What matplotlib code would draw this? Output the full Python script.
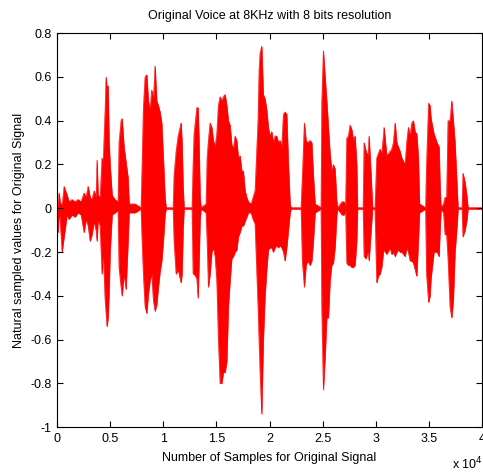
import numpy as np
import matplotlib
matplotlib.use('Agg')
import matplotlib.pyplot as plt

plt.rcParams['font.family'] = ['Liberation Sans', 'DejaVu Sans']

# envelope of the waveform: sample index, upper and lower value
samples = [0, 94, 188, 282, 470, 660, 940, 1130, 1410, 1690, 1980, 2260, 2540, 2730,
           2920, 3110, 3290, 3480, 3670, 3760, 3860, 4050, 4230, 4330, 4520, 4610,
           4700, 4800, 4890, 4990, 5180, 5460, 5740,
           5830, 6020, 6120, 6300, 6490, 6680, 6780, 7340, 7900,
           8000, 8120, 8280, 8440, 8590, 8750, 8910, 9060, 9220, 9380, 9530, 9690,
           9850, 10000, 10160, 10260, 10920,
           11010, 11200, 11390, 11670, 11760, 11860, 11950, 12700,
           12800, 12890, 13150, 13270, 13360, 13460, 13550, 14020,
           14120, 14240, 14400, 14560, 14710, 14870, 15030, 15180, 15340, 15500,
           15650, 15810, 15970, 16120, 16280, 16440, 16590, 16750, 16910, 17060,
           17220, 17380, 17530, 17690, 17850, 18000, 18260, 18440, 18630,
           18910, 19010, 19100, 19260, 19410, 19570, 19730, 19880, 20040, 20200,
           20350, 20510, 20670, 20820, 20980, 21140, 21300, 21450, 21610, 21770,
           21930, 22020, 22960,
           23080, 23270, 23430, 23590, 23810, 23970, 24120, 24280, 24840,
           24910, 25060, 25220, 25380, 25530, 25690, 25850, 26000, 26160, 26320,
           26400, 26820, 27010, 27150,
           27260, 27410, 27570, 27730, 27880, 28040, 28200, 28280, 28800,
           28890, 29080, 29270, 29360, 29550, 29690, 29920,
           30080, 30230, 30390, 30550, 30710, 30770, 31020, 31340, 31490, 31650,
           31810, 31970, 32120, 32280, 32440, 32750, 32900, 33060, 33220, 33380,
           33530, 33690, 33850, 34000, 34110, 34680,
           34770, 34960, 35100, 35190, 35470, 35760, 35950, 36040, 36130, 36370,
           36510, 36660, 36790, 36980, 37140, 37290, 37450, 37640, 37730, 38110,
           38200, 38390, 38580, 38670, 39990]

upper = [0.0, 0.02, 0.07, 0.03, 0.01, 0.10, 0.06, 0.03, 0.04, 0.03, 0.04, 0.03, 0.07, 0.05,
         0.10, 0.05, 0.04, 0.08, 0.05, 0.22, 0.06, 0.05, 0.23, 0.20, 0.45, 0.60,
         0.55, 0.56, 0.31, 0.20, 0.06, 0.04, 0.03,
         0.30, 0.40, 0.41, 0.28, 0.21, 0.14, 0.02, 0.02, 0.003,
         0.20, 0.46, 0.60, 0.61, 0.49, 0.45, 0.54, 0.49, 0.65, 0.49, 0.47, 0.44,
         0.39, 0.23, 0.05, 0.003, 0.003,
         0.15, 0.26, 0.33, 0.39, 0.30, 0.10, 0.003, 0.003,
         0.20, 0.34, 0.46, 0.46, 0.30, 0.05, 0.003, 0.02,
         0.23, 0.31, 0.39, 0.37, 0.31, 0.28, 0.34, 0.47, 0.51, 0.49,
         0.51, 0.52, 0.47, 0.40, 0.38, 0.29, 0.27, 0.33, 0.31, 0.23,
         0.24, 0.17, 0.17, 0.08, 0.05, 0.03, 0.02, 0.05, 0.08,
         0.40, 0.63, 0.71, 0.74, 0.52, 0.50, 0.45, 0.37, 0.33, 0.35,
         0.30, 0.33, 0.33, 0.30, 0.31, 0.28, 0.43, 0.44, 0.43, 0.20,
         0.02, 0.003, 0.003,
         0.14, 0.39, 0.31, 0.30, 0.31, 0.30, 0.15, 0.02, 0.003,
         0.48, 0.72, 0.60, 0.49, 0.37, 0.25, 0.17, 0.20, 0.18, 0.03,
         0.003, 0.03, 0.03, 0.003,
         0.32, 0.33, 0.38, 0.36, 0.31, 0.33, 0.20, 0.003, 0.003,
         0.30, 0.26, 0.24, 0.33, 0.15, 0.003, 0.003,
         0.23, 0.25, 0.27, 0.25, 0.33, 0.37, 0.24, 0.26, 0.27, 0.30,
         0.39, 0.30, 0.28, 0.26, 0.23, 0.20, 0.30, 0.37, 0.33, 0.39,
         0.40, 0.35, 0.34, 0.23, 0.02, 0.003,
         0.20, 0.48, 0.47, 0.41, 0.34, 0.30, 0.28, 0.10, 0.003, 0.02,
         0.05, 0.05, 0.40, 0.40, 0.49, 0.40, 0.30, 0.10, 0.003, 0.003,
         0.16, 0.12, 0.05, 0.003, 0.003]

lower = [-0.10, -0.11, -0.02, -0.05, -0.20, -0.13, -0.03, -0.05, -0.03, -0.04, -0.02, -0.03, -0.11, -0.05,
         -0.08, -0.15, -0.12, -0.06, -0.10, -0.15, -0.05, -0.08, -0.30, -0.18, -0.42, -0.48,
         -0.54, -0.50, -0.39, -0.20, -0.03, -0.02, -0.01,
         -0.27, -0.36, -0.40, -0.30, -0.37, -0.15, -0.02, -0.02, -0.003,
         -0.15, -0.30, -0.45, -0.48, -0.39, -0.33, -0.30, -0.42, -0.47, -0.44, -0.36, -0.29,
         -0.24, -0.15, -0.03, -0.003, -0.003,
         -0.15, -0.30, -0.28, -0.34, -0.30, -0.10, -0.003, -0.003,
         -0.30, -0.30, -0.32, -0.41, -0.25, -0.05, -0.003, -0.02,
         -0.15, -0.36, -0.30, -0.20, -0.18, -0.22, -0.33, -0.60, -0.80, -0.80,
         -0.75, -0.75, -0.70, -0.45, -0.33, -0.23, -0.22, -0.20, -0.19, -0.13,
         -0.11, -0.08, -0.08, -0.06, -0.04, -0.02, -0.02, -0.05, -0.07,
         -0.45, -0.60, -0.75, -0.94, -0.60, -0.40, -0.28, -0.19, -0.18, -0.18,
         -0.20, -0.18, -0.17, -0.18, -0.17, -0.18, -0.20, -0.24, -0.18, -0.10,
         -0.02, -0.003, -0.003,
         -0.24, -0.36, -0.26, -0.24, -0.26, -0.24, -0.15, -0.02, -0.003,
         -0.45, -0.83, -0.68, -0.50, -0.50, -0.33, -0.26, -0.25, -0.18, -0.03,
         -0.003, -0.03, -0.03, -0.003,
         -0.25, -0.26, -0.26, -0.27, -0.27, -0.26, -0.15, -0.003, -0.003,
         -0.22, -0.23, -0.19, -0.24, -0.10, -0.003, -0.003,
         -0.34, -0.31, -0.30, -0.27, -0.20, -0.19, -0.21, -0.18, -0.21, -0.20,
         -0.22, -0.20, -0.19, -0.20, -0.20, -0.22, -0.18, -0.20, -0.24, -0.24,
         -0.25, -0.28, -0.31, -0.15, -0.02, -0.003,
         -0.30, -0.43, -0.40, -0.32, -0.20, -0.20, -0.22, -0.10, -0.003, -0.02,
         -0.12, -0.12, -0.23, -0.45, -0.50, -0.42, -0.20, -0.08, -0.003, -0.003,
         -0.13, -0.10, -0.05, -0.003, -0.003]

x_ticks = [0, 5000, 10000, 15000, 20000, 25000, 30000, 35000, 40000]
x_labels = ['0', '0.5', '1', '1.5', '2', '2.5', '3', '3.5', '4']
y_ticks = [-1, -0.8, -0.6, -0.4, -0.2, 0, 0.2, 0.4, 0.6, 0.8]
y_labels = ['-1', '-0.8', '-0.6', '-0.4', '-0.2', '0', '0.2', '0.4', '0.6', '0.8']

fig = plt.figure(figsize=(4.83, 4.74), dpi=100)
ax = fig.add_axes([0.118, 0.099, 0.880, 0.831])

x = np.array(samples)
ax.fill_between(x, lower, upper, color='red', linewidth=0.4, edgecolor='red')
ax.plot(x, upper, color='red', lw=0.4)
ax.plot(x, lower, color='red', lw=0.4)

ax.set_xlim(0, 40000)
ax.set_ylim(-1, 0.8)
ax.set_xticks(x_ticks)
ax.set_xticklabels(x_labels)
ax.set_yticks(y_ticks)
ax.set_yticklabels(y_labels)
ax.tick_params(direction='in', length=4, width=0.8, top=True, right=True,
               labelsize=9, pad=4)
for s in ax.spines.values():
    s.set_linewidth(0.8)

ax.set_title('Original Voice at 8KHz with 8 bits resolution', fontsize=9, pad=10)
ax.set_xlabel('Number of Samples for Original Signal', fontsize=9, labelpad=5)
ax.set_ylabel('Natural sampled values for Original Signal', fontsize=9, labelpad=4)
fig.text(0.935, 0.010, r'x 10$^4$', fontsize=9)

fig.savefig('out.png', dpi=100)
